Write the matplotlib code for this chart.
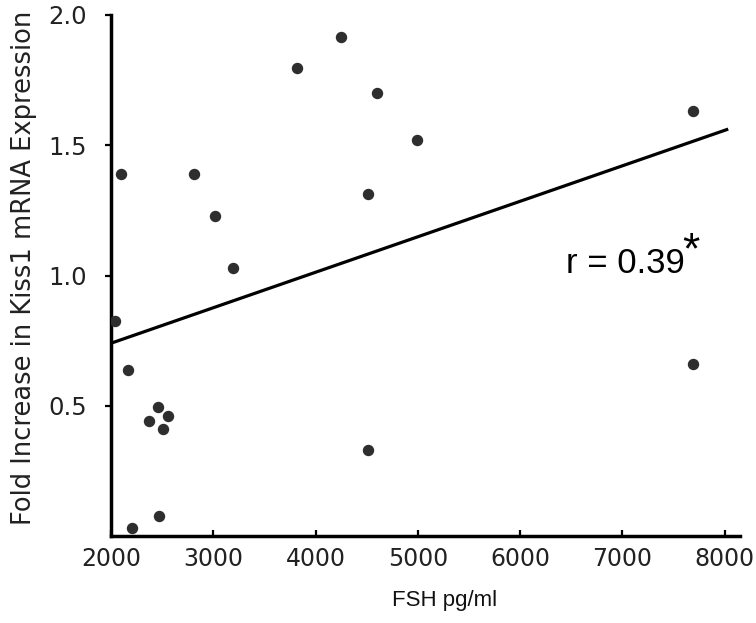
import matplotlib.pyplot as plt

# FSH (pg/ml) vs fold increase in Kiss1 mRNA expression
fsh = [2036, 2095, 2166, 2208, 2372, 2460, 2509, 2558, 2467, 2809,
       3015, 3191, 3823, 4248, 4596, 4515, 4515, 4994, 7695, 7695]
kiss1 = [0.825, 1.390, 0.637, 0.030, 0.443, 0.496, 0.410, 0.461, 0.077, 1.390,
         1.230, 1.030, 1.795, 1.917, 1.702, 1.313, 0.330, 1.520, 1.631, 0.660]

# regression line end points
fit_x = [2000, 8020]
fit_y = [0.74, 1.56]

xticks = [2000, 3000, 4000, 5000, 6000, 7000, 8000]
yticks = [0.5, 1.0, 1.5, 2.0]

fig = plt.figure(figsize=(7.56, 6.23), dpi=100)
ax = fig.add_axes([111/756, 1 - 536/623, 629/756, 521/623])

ax.plot(fsh, kiss1, 'o', color='#2e2e2e', markersize=7.2, zorder=3)
ax.plot(fit_x, fit_y, color='black', linewidth=2.3, zorder=2)

ax.set_xlim(2000, 8150)
ax.set_ylim(0, 2.0)
ax.set_xticks(xticks)
ax.set_yticks(yticks)
ax.set_yticklabels(['0.5', '1.0', '1.5', '2.0'])

for side in ['top', 'right']:
    ax.spines[side].set_visible(False)
for side in ['left', 'bottom']:
    ax.spines[side].set_linewidth(2.5)

ax.tick_params(axis='x', direction='in', length=4.5, width=1.6, pad=8,
               labelsize=17, labelcolor='#222222')
ax.tick_params(axis='y', direction='out', length=4.5, width=1.6, pad=13,
               labelsize=17.5, labelcolor='#222222')

ax.set_ylabel('Fold Increase in Kiss1 mRNA Expression', fontsize=18.5,
              color='#222222')
ax.yaxis.set_label_coords(-0.118, 0.515)
ax.set_xlabel('FSH pg/ml', fontsize=16, family='Liberation Sans',
              color='#111111')
ax.xaxis.set_label_coords(0.531, -0.104)

ax.text(6450, 1.01, 'r = 0.39', fontsize=25, family='Liberation Sans',
        ha='left', va='baseline')
ax.text(7590, 1.17, '*', fontsize=32, family='Liberation Sans',
        ha='left', va='top')

fig.savefig('out.png', dpi=100)
